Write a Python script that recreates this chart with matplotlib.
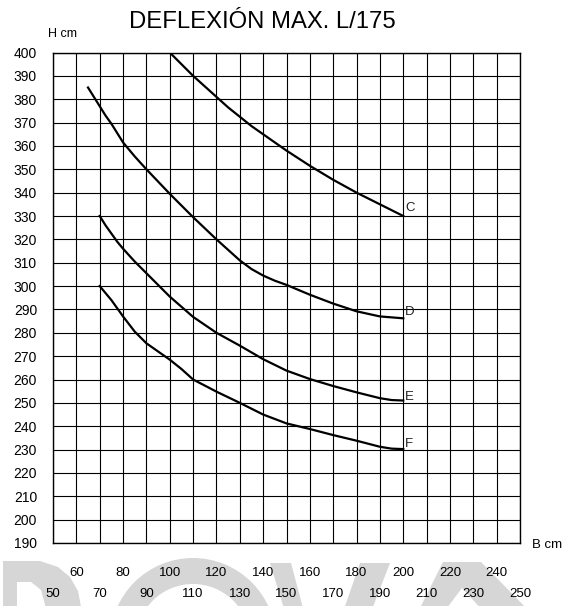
import numpy as np
import matplotlib
matplotlib.use("Agg")
import matplotlib.pyplot as plt
from matplotlib.patches import Polygon, Wedge
from matplotlib.transforms import Affine2D

plt.rcParams['font.family'] = ['Liberation Sans', 'DejaVu Sans']

# curves (B cm -> H cm)
c_x = [100, 110, 120, 125, 130, 135, 140, 150, 160, 170, 180, 190, 200]
c_y = [400, 390, 381, 376.5, 372.5, 368.5, 365, 358, 351.5, 345.5, 340, 335, 330]

d_x = [65, 67.5, 70, 72.5, 75, 77.5, 80, 85, 90, 100, 110, 120, 130, 135, 140, 145, 150, 160, 170, 180, 190, 200]
d_y = [385, 381, 377, 373, 369.5, 365.5, 361.5, 355.5, 350, 339.5, 329.5, 320, 311, 307.3, 304.5, 302.3, 300.5, 296.3, 292.5, 289.2, 287, 286.2]

e_x = [70, 72.5, 75, 77.5, 80, 85, 90, 100, 110, 120, 130, 140, 150, 160, 170, 180, 190, 195, 200]
e_y = [330, 326, 322.5, 319, 316, 310.5, 305.5, 295.5, 286.8, 280, 274.5, 268.7, 263.8, 260.2, 257.2, 254.5, 252, 251.2, 251]

f_x = [70, 72.5, 75, 77.5, 80, 85, 90, 95, 100, 105, 110, 120, 130, 140, 150, 160, 170, 180, 190, 195, 200]
f_y = [300, 297, 294, 290.5, 287, 280.5, 275.5, 272, 268.5, 264.5, 260, 254.8, 250, 245, 241.2, 238.8, 236.2, 233.8, 231.2, 230.4, 230.2]

curve_names = ['C', 'D', 'E', 'F']
label_y = [333.5, 288.7, 252.5, 232.5]

x_upper = np.arange(60, 241, 20)
x_lower = np.arange(50, 251, 20)
y_ticks = np.arange(190, 401, 10)

W, H = 565, 606
fig = plt.figure(figsize=(W / 100, H / 100), dpi=100)
ax = fig.add_axes([53 / W, 1 - 543 / H, 467 / W, 490.5 / H])

for xs, ys in [(c_x, c_y), (d_x, d_y), (e_x, e_y), (f_x, f_y)]:
    ax.plot(xs, ys, color='black', lw=1.6, solid_joinstyle='round', zorder=3)

for name, yl in zip(curve_names, label_y):
    ax.text(200.8, yl, name, fontsize=9.5, color='#222222', ha='left', va='center')

ax.set_xlim(50, 250)
ax.set_ylim(190, 400)
ax.set_xticks(x_upper)
ax.set_xticks(x_lower, minor=True)
ax.set_xticklabels([str(v) for v in x_upper])
ax.set_xticklabels([str(v) for v in x_lower], minor=True)
ax.set_yticks(y_ticks)
ax.set_yticklabels([str(v) for v in y_ticks])
ax.tick_params(axis='x', which='major', length=0, pad=17.5, labelsize=9.5)
ax.tick_params(axis='x', which='minor', length=0, pad=32.5, labelsize=9.5)
ax.tick_params(axis='y', length=0, pad=11.5, labelsize=10)
ax.grid(True, which='both', color='black', lw=0.8)
ax.set_axisbelow(True)
for s in ax.spines.values():
    s.set_linewidth(1.0)

fig.text(129 / W, 1 - 28 / H, 'DEFLEXIÓN MAX. L/175', fontsize=17.2, ha='left', va='baseline')
fig.text(48 / W, 1 - 37 / H, 'H cm', fontsize=9, ha='left', va='baseline')
fig.text(532 / W, 1 - 548 / H, 'B cm', fontsize=9.5, ha='left', va='baseline')

# faint logo watermark at the bottom
px = Affine2D().scale(1 / W, -1 / H).translate(0, 1) + fig.transFigure
wm = '#d6d6d6'
shapes = [
    Polygon([(3, 561), (40, 561), (58, 567), (70, 577), (78, 591), (82, 612), (3, 612)], closed=True),
    Wedge((193, 641), 83, 0, 360, width=26),
    Polygon([(270, 563), (291, 563), (304, 612), (285, 612)], closed=True),
    Polygon([(360, 563), (390, 563), (371, 612), (343, 612)], closed=True),
    Polygon([(443, 562), (481, 562), (530, 612), (418, 612)], closed=True),
]
for p in shapes:
    p.set_transform(px)
    p.set_facecolor(wm)
    p.set_edgecolor('none')
    p.set_zorder(-5)
    fig.add_artist(p)
holes = [
    Polygon([(17, 582), (31, 582), (41, 590), (47, 612), (17, 612)], closed=True),
    Polygon([(462, 588), (484, 612), (444, 612)], closed=True),
]
for p in holes:
    p.set_transform(px)
    p.set_facecolor('white')
    p.set_edgecolor('none')
    p.set_zorder(-4)
    fig.add_artist(p)

fig.savefig('out.png', dpi=100)
